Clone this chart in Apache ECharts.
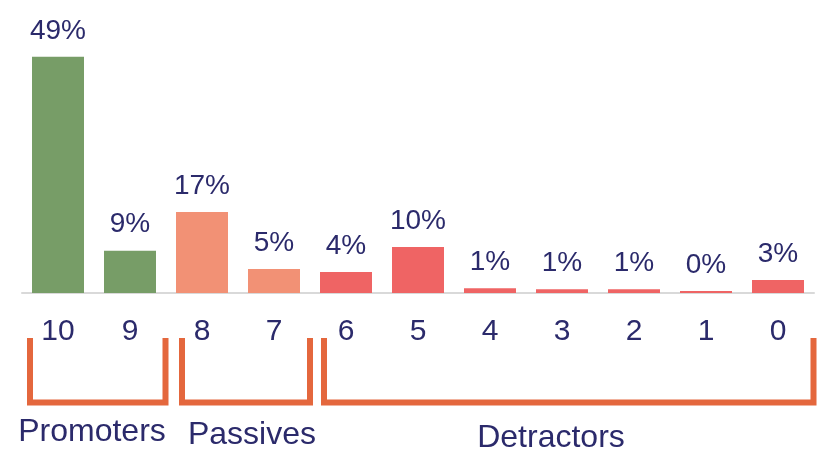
<!DOCTYPE html>
<html>
<head>
<meta charset="utf-8">
<script src="https://cdn.jsdelivr.net/npm/echarts@6/dist/echarts.min.js"></script>
<style>
  html, body { margin: 0; padding: 0; background: #fff; }
  #chart { width: 820px; height: 455px; }
</style>
</head>
<body>
<div id="chart"></div>
<script>
// scores on the x axis
const scores = ['10', '9', '8', '7', '6', '5', '4', '3', '2', '1', '0']
// share of answers per score (%)
const shares = [49.2, 8.8, 16.9, 5.0, 4.4, 9.6, 1.0, 0.8, 0.8, 0.4, 2.7]
// which group each score belongs to
const scoreGroup = ['Promoters', 'Promoters', 'Passives', 'Passives',
  'Detractors', 'Detractors', 'Detractors', 'Detractors', 'Detractors', 'Detractors', 'Detractors']
const groupNames = ['Promoters', 'Passives', 'Detractors']

const groupColor = {
  Promoters: '#779d67',
  Passives: '#f29175',
  Detractors: '#ef6464'
}
const textColor = '#2b2a6b'
const bracketColor = '#e4673d'
const font = 'Liberation Sans'

const chart = echarts.init(document.getElementById('chart'))

// 括号和分组标题
const brackets = [
  { name: groupNames[0], x1: 30, x2: 165.5, labelX: 92, labelY: 432 },
  { name: groupNames[1], x1: 182, x2: 310, labelX: 252, labelY: 435 },
  { name: groupNames[2], x1: 324, x2: 813.5, labelX: 551, labelY: 438 }
]

const graphics = []
brackets.forEach(b => {
  graphics.push({
    type: 'polyline',
    shape: { points: [[b.x1, 338], [b.x1, 402.5], [b.x2, 402.5], [b.x2, 338]] },
    style: { stroke: bracketColor, lineWidth: 6, fill: null, lineJoin: 'miter' },
    silent: true
  })
  graphics.push({
    type: 'text',
    x: b.labelX,
    y: b.labelY,
    style: {
      text: b.name,
      fill: textColor,
      fontSize: 32,
      fontFamily: font,
      align: 'center',
      verticalAlign: 'middle'
    },
    silent: true
  })
})

const option = {
  animation: false,
  grid: { left: 22, right: 6, top: 53, bottom: 162 },
  xAxis: {
    type: 'category',
    data: scores,
    axisLine: { show: true, lineStyle: { color: '#d9d9d9', width: 2 } },
    axisTick: { show: false },
    axisLabel: { color: textColor, fontSize: 30, fontFamily: font, margin: 24 }
  },
  yAxis: {
    type: 'value',
    min: 0,
    max: 50,
    show: false
  },
  series: [
    {
      type: 'bar',
      barWidth: 52,
      data: shares.map((v, i) => ({
        value: v,
        itemStyle: { color: groupColor[scoreGroup[i]] }
      })),
      label: {
        show: true,
        position: 'top',
        distance: 12,
        color: textColor,
        fontSize: 28,
        fontFamily: font,
        formatter: p => Math.round(p.value) + '%'
      }
    }
  ],
  graphic: graphics
}

chart.setOption(option)
</script>
</body>
</html>
